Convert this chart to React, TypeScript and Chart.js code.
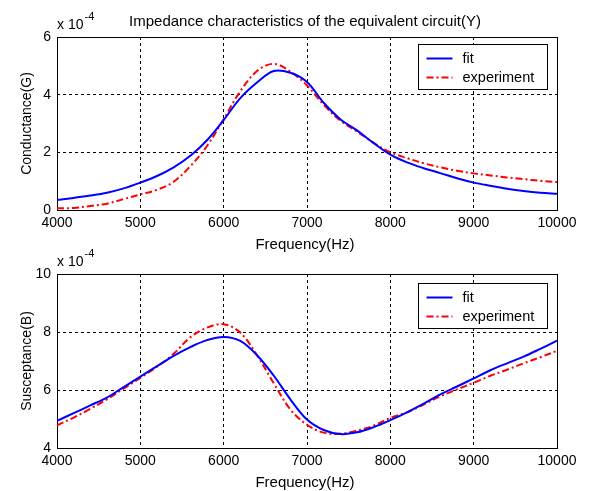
import React, { useEffect, useRef } from "react";
import { Chart, registerables } from "chart.js";

Chart.register(...registerables);

// Frequency samples (Hz)
const freq = [
  4000, 4200, 4400, 4600, 4800, 5000, 5200, 5400, 5600, 5800, 6000, 6200, 6400,
  6600, 6800, 7000, 7200, 7400, 7600, 7800, 8000, 8200, 8400, 8600, 8800, 9000,
  9200, 9400, 9600, 9800, 10000,
];
// Conductance G (x 1e-4)
const conductanceFit = [
  0.35, 0.42, 0.5, 0.6, 0.75, 0.95, 1.18, 1.48, 1.88, 2.42, 3.12, 3.88, 4.42,
  4.82, 4.76, 4.44, 3.72, 3.15, 2.76, 2.32, 1.92, 1.65, 1.45, 1.28, 1.1, 0.95,
  0.84, 0.74, 0.66, 0.6, 0.56,
];
const conductanceExp = [
  0.06, 0.07, 0.14, 0.22, 0.38, 0.54, 0.7, 0.98, 1.52, 2.22, 3.15, 4.12, 4.82,
  5.07, 4.8, 4.32, 3.65, 3.1, 2.72, 2.33, 2.0, 1.8, 1.62, 1.48, 1.36, 1.27,
  1.2, 1.13, 1.07, 1.01, 0.97,
];
// Susceptance B (x 1e-4)
const susceptanceFit = [
  4.94, 5.2, 5.47, 5.74, 6.1, 6.46, 6.82, 7.18, 7.48, 7.72, 7.83, 7.69, 7.2,
  6.5, 5.68, 4.98, 4.62, 4.48, 4.54, 4.72, 4.96, 5.23, 5.53, 5.85, 6.12, 6.4,
  6.68, 6.92, 7.15, 7.42, 7.7,
];
const susceptanceExp = [
  4.78, 5.05, 5.35, 5.68, 6.05, 6.42, 6.8, 7.25, 7.82, 8.15, 8.27, 7.98, 7.2,
  6.24, 5.33, 4.8, 4.53, 4.49, 4.6, 4.77, 5.04, 5.23, 5.5, 5.78, 6.02, 6.25,
  6.49, 6.7, 6.92, 7.13, 7.35,
];
const xTickValues = [4000, 5000, 6000, 7000, 8000, 9000, 10000];
const seriesLabels = ["fit", "experiment"];

const FONT = '"Liberation Sans", Arial, Helvetica, sans-serif';

type PanelProps = {
  fit: number[];
  exp: number[];
  yMin: number;
  yMax: number;
  yLabel: string;
  title?: string;
  height: number;
  padTop: number;
  plotBottom: number;
  legendOffset: number;
  top: number;
};

function makeDecor(p: PanelProps) {
  return {
    id: "decor",
    beforeDatasetsDraw(chart: any) {
      const ctx = chart.ctx;
      const a = chart.chartArea;
      ctx.save();
      ctx.strokeStyle = "#000";
      ctx.lineWidth = 1;
      ctx.setLineDash([]);
      ctx.strokeRect(
        Math.round(a.left) + 0.5,
        Math.round(a.top) + 0.5,
        Math.round(a.right - a.left),
        Math.round(a.bottom - a.top)
      );
      ctx.restore();
    },
    afterDraw(chart: any) {
      const ctx = chart.ctx;
      const a = chart.chartArea;
      ctx.save();
      ctx.fillStyle = "#000";
      // exponent
      ctx.font = `14px ${FONT}`;
      ctx.textAlign = "left";
      ctx.textBaseline = "alphabetic";
      ctx.fillText("x 10", a.left, a.top - 8);
      const w = ctx.measureText("x 10").width;
      ctx.font = `11px ${FONT}`;
      ctx.fillText("-4", a.left + w + 1, a.top - 17);
      // title
      if (p.title) {
        ctx.font = `15px ${FONT}`;
        ctx.textAlign = "center";
        ctx.fillText(p.title, (a.left + a.right) / 2 - 2, a.top - 11);
      }
      // x label
      ctx.font = `15px ${FONT}`;
      ctx.textAlign = "center";
      ctx.fillText("Frequency(Hz)", (a.left + a.right) / 2 - 2, a.bottom + 39);
      // y label
      ctx.save();
      ctx.font = `14px ${FONT}`;
      ctx.translate(31, (a.top + a.bottom) / 2);
      ctx.rotate(-Math.PI / 2);
      ctx.textAlign = "center";
      ctx.fillText(p.yLabel, 0, 0);
      ctx.restore();
      // legend
      const bx = Math.round(a.right) - 138.5;
      const by = Math.round(a.top) + p.legendOffset + 0.5;
      const bw = 129;
      const bh = 45;
      ctx.fillStyle = "#fff";
      ctx.fillRect(bx, by, bw, bh);
      ctx.strokeStyle = "#000";
      ctx.lineWidth = 1;
      ctx.strokeRect(bx, by, bw, bh);
      const ds = chart.data.datasets;
      for (let i = 0; i < ds.length; i++) {
        const yy = by + 14 + i * 19;
        ctx.strokeStyle = ds[i].borderColor;
        ctx.lineWidth = 2;
        ctx.setLineDash(ds[i].borderDash || []);
        ctx.beginPath();
        ctx.moveTo(bx + 8, yy);
        ctx.lineTo(bx + 34, yy);
        ctx.stroke();
        ctx.setLineDash([]);
        ctx.fillStyle = "#000";
        ctx.font = `14.5px ${FONT}`;
        ctx.textAlign = "left";
        ctx.textBaseline = "middle";
        ctx.fillText(ds[i].label, bx + 44, yy);
      }
      ctx.restore();
    },
  };
}

function Panel(p: PanelProps) {
  const ref = useRef<HTMLCanvasElement>(null);
  useEffect(() => {
    if (!ref.current) return;
    const chart = new Chart(ref.current, {
      type: "line",
      data: {
        datasets: [
          {
            label: seriesLabels[0],
            data: freq.map((f, i) => ({ x: f, y: p.fit[i] })),
            borderColor: "#0000ff",
            borderWidth: 2,
            pointRadius: 0,
            tension: 0.35,
            fill: false,
          },
          {
            label: seriesLabels[1],
            data: freq.map((f, i) => ({ x: f, y: p.exp[i] })),
            borderColor: "#ff0000",
            borderWidth: 2,
            borderDash: [7, 3, 2, 3],
            pointRadius: 0,
            tension: 0.35,
            fill: false,
          },
        ],
      },
      options: {
        responsive: false,
        animation: false,
        devicePixelRatio: 1,
        layout: { padding: { left: 0, right: 34, top: p.padTop, bottom: 0 } },
        plugins: {
          legend: { display: false },
          tooltip: { enabled: false },
          title: { display: false },
        },
        scales: {
          x: {
            type: "linear",
            min: 4000,
            max: 10000,
            afterFit: (s: any) => {
              s.height = p.height - p.plotBottom;
            },
            afterBuildTicks: (s: any) => {
              s.ticks = xTickValues.map((v) => ({ value: v }));
            },
            ticks: {
              color: "#000",
              font: { family: FONT, size: 14 },
              padding: 5,
              maxRotation: 0,
              autoSkip: false,
              callback: (v: any) => String(v),
            },
            grid: { color: "#000", lineWidth: 1, drawTicks: false },
            border: { display: false, dash: [3, 3] },
          },
          y: {
            type: "linear",
            min: p.yMin,
            max: p.yMax,
            afterFit: (s: any) => {
              s.width = 57;
            },
            ticks: {
              stepSize: 2,
              color: "#000",
              font: { family: FONT, size: 14 },
              padding: 6,
            },
            grid: { color: "#000", lineWidth: 1, drawTicks: false },
            border: { display: false, dash: [3, 3] },
          },
        },
      },
      plugins: [makeDecor(p)],
    } as any);
    return () => chart.destroy();
  }, []);
  return (
    <canvas
      ref={ref}
      width={591}
      height={p.height}
      style={{ position: "absolute", left: 0, top: p.top, display: "block", width: 591, height: p.height }}
    />
  );
}

export default function App() {
  return (
    <div style={{ position: "absolute", left: 0, top: 0, width: 591, height: 491, background: "#fff" }}>
      <Panel
        fit={conductanceFit}
        exp={conductanceExp}
        yMin={0}
        yMax={6}
        yLabel="Conductance(G)"
        title="Impedance characteristics of the equivalent circuit(Y)"
        height={260}
        padTop={37}
        plotBottom={210}
        legendOffset={7}
        top={0}
      />
      <Panel
        fit={susceptanceFit}
        exp={susceptanceExp}
        yMin={4}
        yMax={10}
        yLabel="Susceptance(B)"
        height={246}
        padTop={29}
        plotBottom={203}
        legendOffset={9}
        top={245}
      />
    </div>
  );
}
